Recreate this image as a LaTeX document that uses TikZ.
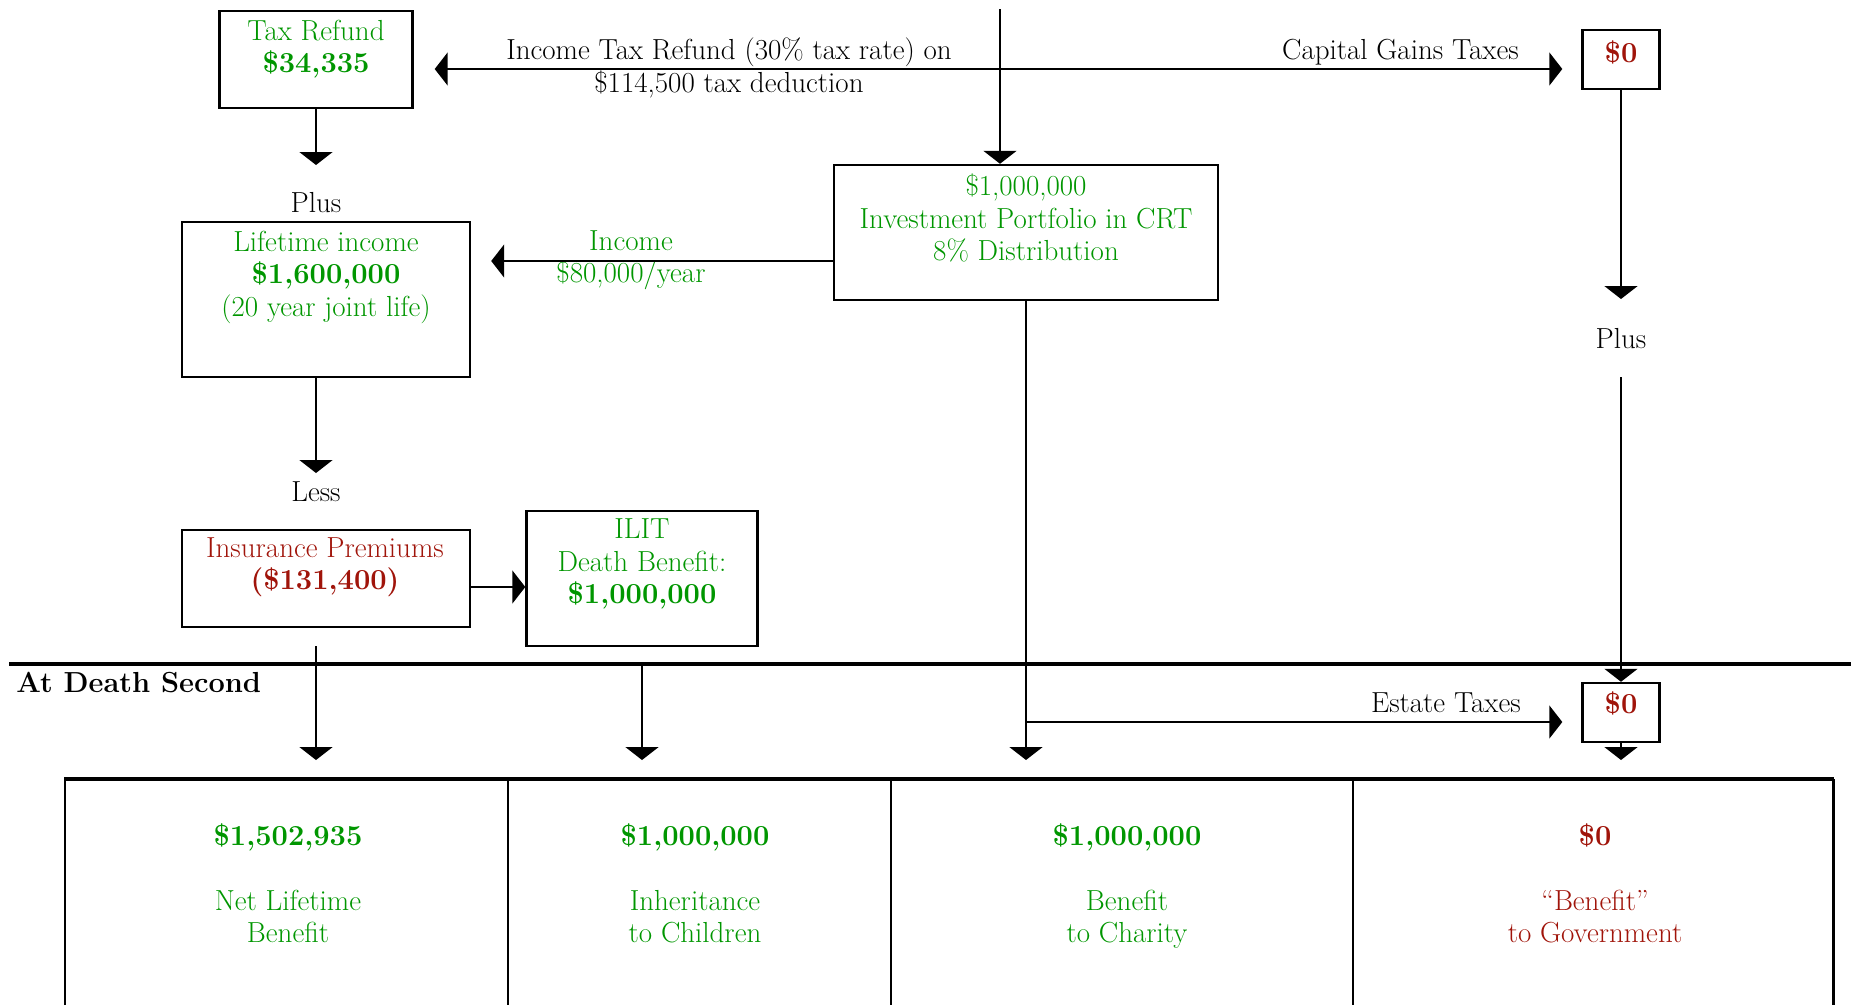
\documentclass[tikz,border=0pt]{standalone}
\usepackage{tikz}
\usetikzlibrary{arrows.meta,positioning,calc}
\definecolor{moneygreen}{RGB}{0,150,0}
\definecolor{taxred}{RGB}{160,20,10}
\tikzset{
  % base font for every text
  every node/.append style={font=\fontsize{16.5}{18.5}\selectfont},
  % empty frames
  box/.style={draw, line width=1.4pt, inner sep=0pt},
  % texts
  gtxt/.style={text=moneygreen, align=center, inner sep=0pt},
  rtxt/.style={text=taxred, align=center, inner sep=0pt},
  lbl/.style={align=center, inner sep=0pt},
  % connectors
  arr/.style={-{Triangle[length=0.26cm,width=0.66cm]}, line width=1.15pt},
  dbl/.style={{Triangle[length=0.26cm,width=0.66cm]}-{Triangle[length=0.26cm,width=0.66cm]}, line width=1.15pt},
}

\begin{document}
\begin{tikzpicture}[x=0.02cm, y=-0.02cm]
\useasboundingbox (0,0) rectangle (1858,1005);

% frames
\node[box, minimum width=3.86cm, minimum height=1.94cm] (tax) at (316,59.5) {};
\node[box, minimum width=1.54cm, minimum height=1.18cm] (cgt) at (1621,59.5) {};
\node[box, minimum width=7.68cm, minimum height=2.7cm] (crt) at (1026,232.5) {};
\node[box, minimum width=5.76cm, minimum height=3.1cm] (life) at (326,299.5) {};
\node[box, minimum width=5.76cm, minimum height=1.94cm] (prem) at (326,578.5) {};
\node[box, minimum width=4.62cm, minimum height=2.7cm] (ilit) at (642,578.5) {};
\node[box, minimum width=1.54cm, minimum height=1.18cm] (est) at (1621,712.5) {};

% texts in the frames
\node[gtxt] (tax-t) at (316,49) {Tax Refund\\\textbf{\$34,335}};
\node[rtxt] (cgt-t) at (1621,52) {\textbf{\$0}};
\node[gtxt] (crt-t) at (1026,218) {\$1,000,000\\Investment Portfolio in CRT\\8\% Distribution};
\node[gtxt] (life-t) at (326,277) {Lifetime income\\\textbf{\$1,600,000}\\(20 year joint life)};
\node[rtxt] (prem-t) at (325,567) {Insurance Premiums\\\textbf{(\$131,400)}};
\node[gtxt] (ilit-t) at (642,564) {ILIT\\Death Benefit:\\\textbf{\$1,000,000}};
\node[rtxt] (est-t) at (1621,703) {\textbf{\$0}};

% free labels
\node[lbl] (plus1) at (316,203) {Plus};
\node[lbl] (plus2) at (1621,339) {Plus};
\node[lbl] (less) at (316,492) {Less};
\node[lbl] (itr) at (729,68) {Income Tax Refund (30\% tax rate) on\\\$114,500 tax deduction};
\node[lbl, anchor=east] (cgt-l) at (1519,52) {Capital Gains Taxes};
\node[gtxt] (inc-l) at (631,260) {Income\\\$80,000/year};
\node[lbl, anchor=east] (est-l) at (1521,703) {Estate Taxes};
\node[lbl, anchor=west] (death) at (16,683) {\textbf{At Death Second}};

% helper points
\coordinate (top) at (1000,9);
\coordinate (hl) at (1000,69);
\coordinate (plus1-in) at (316,165);
\coordinate (plus2-in) at (1621,299);
\coordinate (plus2-out) at (1621,377);
\coordinate (less-in) at (316,473);
\coordinate (less-out) at (316,646);
\coordinate (split) at (0,664);
\coordinate (row) at (0,760);
\coordinate (inc) at (0,261);
\coordinate (prem-ilit) at (0,587);
\coordinate (estline) at (0,722);

% connectors
\draw[arr] (tax.south) -- (plus1-in);
\draw[arr] (top) -- (top |- crt.north);
\draw[dbl, shorten <=0.42cm, shorten >=0.38cm] (tax.east |- hl) -- (cgt.west |- hl);
\draw[arr] (cgt.south) -- (plus2-in);
\draw[arr] (plus2-out) -- (est.north);
\draw[arr] (est.south) -- (est.south |- row);
\draw[arr, shorten >=0.4cm] (crt.west |- inc) -- (life.east |- inc);
\draw[arr] (life.south -| plus1-in) -- (less-in);
\draw[arr] (prem.east |- prem-ilit) -- (ilit.west |- prem-ilit);
\draw[arr] (less-out) -- (less-out |- row);
\draw[arr] (ilit.south |- split) -- (ilit.south |- row);
\draw[arr] (crt.south) -- (crt.south |- row);
\draw[arr, shorten >=0.38cm] (crt.south |- estline) -- (est.west |- estline);

% dividing line
\draw[line width=2.8pt] (9,664) -- (1851,664);

% result table
\draw[line width=1.7pt] (65,1005) -- (65,779) (1833,779) -- (1833,1005);
\draw[line width=2.8pt] (64,779) -- (1834,779);
\foreach \x in {508,891,1353}
  \draw[line width=1.1pt] (\x,779) -- (\x,1005);

\node[gtxt, anchor=north] (net) at (288,823) {\textbf{\$1,502,935}\\[18.5pt]Net Lifetime\\Benefit};
\node[gtxt, anchor=north] (kids) at (695,823) {\textbf{\$1,000,000}\\[18.5pt]Inheritance\\to Children};
\node[gtxt, anchor=north] (charity) at (1127,823) {\textbf{\$1,000,000}\\[18.5pt]Benefit\\to Charity};
\node[rtxt, anchor=north] (gov) at (1595,823) {\textbf{\$0}\\[18.5pt]``Benefit''\\to Government};
\end{tikzpicture}
\end{document}
